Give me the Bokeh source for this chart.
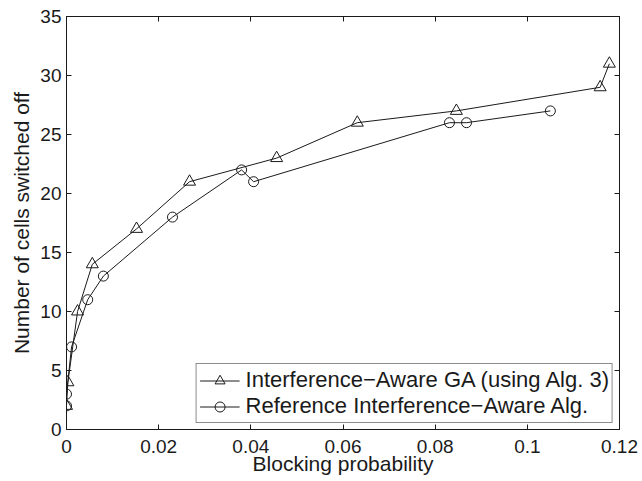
from bokeh.plotting import figure
from bokeh.embed import file_html
from bokeh.resources import INLINE
from bokeh.models import LinearAxis, FixedTicker, CustomJSTickFormatter, Range1d

# Data
ga_x = [0.0, 0.0003, 0.0024, 0.0056, 0.0152, 0.0267, 0.0456, 0.0631, 0.0846, 0.1158, 0.1178]
ga_y = [2, 4, 10, 14, 17, 21, 23, 26, 27, 29, 31]
ref_x = [0.0, 0.0, 0.0011, 0.0046, 0.0080, 0.0230, 0.0380, 0.0406, 0.0831, 0.0868, 0.1050]
ref_y = [2, 3, 7, 11, 13, 18, 22, 21, 26, 26, 27]
x_ticks = [0, 0.02, 0.04, 0.06, 0.08, 0.1, 0.12]
x_tick_labels = ["0", "0.02", "0.04", "0.06", "0.08", "0.1", "0.12"]
y_ticks = [0, 5, 10, 15, 20, 25, 30, 35]
ga_label = "Interference\u2212Aware GA (using Alg. 3)"
ref_label = "Reference Interference\u2212Aware Alg."

FONT = "Liberation Sans"
INK = "#1a1a1a"
W, H = 642, 481

p = figure(width=W, height=H, output_backend="svg", toolbar_location=None,
           x_range=Range1d(0, 0.12), y_range=Range1d(0, 35),
           min_border_left=66, min_border_right=W - 619,
           min_border_top=16, min_border_bottom=H - 429)
p.background_fill_color = "white"
p.border_fill_color = "white"
p.grid.visible = False
p.outline_line_color = INK
p.outline_line_width = 1

p.xaxis.ticker = FixedTicker(ticks=x_ticks)
p.xaxis.major_label_overrides = {t: l for t, l in zip(x_ticks, x_tick_labels)}
p.yaxis.ticker = FixedTicker(ticks=y_ticks)
for ax in [p.xaxis[0], p.yaxis[0]]:
    ax.major_tick_in = 5
    ax.major_tick_out = 0
    ax.minor_tick_in = 0
    ax.minor_tick_out = 0
    ax.axis_line_color = INK
    ax.major_tick_line_color = INK
    ax.major_label_text_font = FONT
    ax.major_label_text_font_size = "19px"
    ax.major_label_text_color = INK
    ax.axis_label_text_font = FONT
    ax.axis_label_text_font_size = "21px"
    ax.axis_label_text_font_style = "normal"
    ax.axis_label_text_color = INK
p.xaxis.axis_label = "Blocking probability"
p.yaxis.axis_label = "Number of cells switched off"
p.xaxis.major_label_standoff = 10
p.yaxis.major_label_standoff = 5
p.xaxis.axis_label_standoff = -4
p.yaxis.axis_label_standoff = 4

blank = CustomJSTickFormatter(code="return ''")
top = LinearAxis(ticker=FixedTicker(ticks=x_ticks), formatter=blank,
                 major_tick_in=5, major_tick_out=0, minor_tick_in=0, minor_tick_out=0,
                 major_label_text_font_size="0px", major_label_standoff=0,
                 axis_line_color=INK, major_tick_line_color=INK)
right = LinearAxis(ticker=FixedTicker(ticks=y_ticks), formatter=blank,
                   major_tick_in=5, major_tick_out=0, minor_tick_in=0, minor_tick_out=0,
                   major_label_text_font_size="0px", major_label_standoff=0,
                   axis_line_color=INK, major_tick_line_color=INK)
p.add_layout(top, "above")
p.add_layout(right, "right")

p.line(ga_x, ga_y, line_color=INK, line_width=1, legend_label=ga_label)
p.scatter(ga_x, ga_y, marker="triangle", size=12, fill_color=None, line_color=INK,
          line_width=1, legend_label=ga_label)
p.line(ref_x, ref_y, line_color=INK, line_width=1, legend_label=ref_label)
p.scatter(ref_x, ref_y, marker="circle", size=10, fill_color=None, line_color=INK,
          line_width=1, legend_label=ref_label)

lg = p.legend[0]
lg.location = "bottom_right"
lg.margin = 6
lg.padding = 3
lg.spacing = 0
lg.border_line_color = INK
lg.border_line_width = 1
lg.background_fill_alpha = 1
lg.label_text_font = FONT
lg.label_text_font_size = "22px"
lg.label_text_color = INK
lg.glyph_width = 40
lg.glyph_height = 25
lg.label_standoff = 6
lg.label_height = 25

open("out.html", "w").write(file_html(p, INLINE))
